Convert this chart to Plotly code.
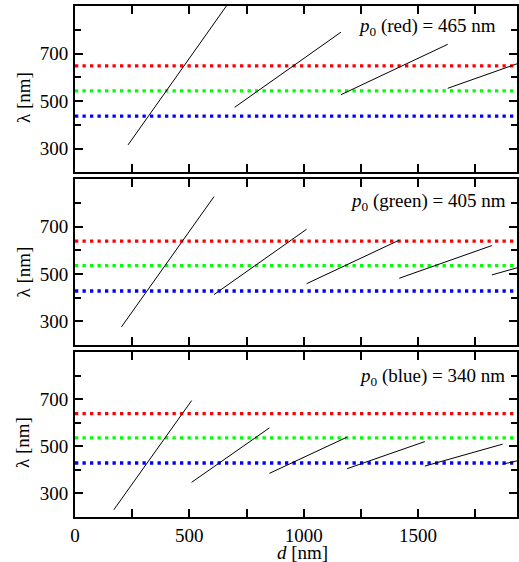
import plotly.graph_objects as go

# ---------------- data ----------------
# horizontal reference wavelengths (nm) per panel: red, green, blue
ref_colors = ["#ff0000", "#00ff00", "#0000ff"]
ref_lambda_p1 = [648, 543, 437]   # p0(red)=465 panel
ref_lambda_p2 = [639, 535, 428]   # p0(green)=405 panel
ref_lambda_p3 = [639, 536, 429]   # p0(blue)=340 panel

# black branch segments: start/end d (nm), start/end lambda (nm)
p1_d0 = [232, 698, 1163, 1630]
p1_d1 = [662, 1163, 1630, 1933]
p1_l0 = [316, 474, 527, 554]
p1_l1 = [900, 790, 739, 657]

p2_d0 = [203, 608, 1013, 1418, 1823]
p2_d1 = [608, 1013, 1418, 1823, 1933]
p2_l0 = [276, 413, 459, 482, 496]
p2_l1 = [827, 689, 643, 620, 526]

p3_d0 = [170, 510, 850, 1190, 1530, 1870]
p3_d1 = [510, 850, 1190, 1530, 1870, 1933]
p3_l0 = [231, 347, 385, 405, 416, 424]
p3_l1 = [694, 578, 539, 520, 509, 438]

panel_labels = ["<i>p</i><sub>0</sub> (red) = 465 nm",
                "<i>p</i><sub>0</sub> (green) = 405 nm",
                "<i>p</i><sub>0</sub> (blue) = 340 nm"]

x_range = [0, 1933]
y_range = [200, 900]
x_tickvals = [0, 500, 1000, 1500]
y_tickvals = [300, 500, 700]

FONT = "Liberation Serif"

fig = go.Figure()

panels = [
    ("x3", "y3", ref_lambda_p1, p1_d0, p1_d1, p1_l0, p1_l1),
    ("x2", "y2", ref_lambda_p2, p2_d0, p2_d1, p2_l0, p2_l1),
    ("x", "y", ref_lambda_p3, p3_d0, p3_d1, p3_l0, p3_l1),
]

for xa, ya, refs, d0, d1, l0, l1 in panels:
    for c, lam in zip(ref_colors, refs):
        fig.add_trace(go.Scatter(x=x_range, y=[lam, lam], mode="lines",
                                 line=dict(color=c, width=3.3, dash="3.3px,4.2px"),
                                 xaxis=xa, yaxis=ya, showlegend=False, hoverinfo="skip"))
    xs, ys = [], []
    for a, b, c0, c1 in zip(d0, d1, l0, l1):
        xs += [a, b, None]
        ys += [c0, c1, None]
    fig.add_trace(go.Scatter(x=xs, y=ys, mode="lines",
                             line=dict(color="black", width=1),
                             xaxis=xa, yaxis=ya, showlegend=False, hoverinfo="skip"))

tickfont = dict(family=FONT, size=19, color="black")

def xax(show, anchor):
    return dict(range=x_range, tickmode="array", tickvals=x_tickvals,
                showticklabels=show, anchor=anchor,
                showline=True, linewidth=2, linecolor="black", mirror="allticks",
                ticks="inside", ticklen=8, tickwidth=2, tickcolor="black",
                minor=dict(dtick=250, tick0=0, ticks="inside", ticklen=8, tickwidth=2, tickcolor="black"),
                showgrid=False, zeroline=False, tickfont=tickfont, domain=[0, 1])

def yax(domain, anchor):
    return dict(range=y_range, tickmode="array", tickvals=y_tickvals, anchor=anchor,
                showline=True, linewidth=2, linecolor="black", mirror="allticks",
                ticks="inside", ticklen=8, tickwidth=2, tickcolor="black",
                minor=dict(dtick=100, tick0=200, ticks="inside", ticklen=6, tickwidth=2, tickcolor="black"),
                showgrid=False, zeroline=False, tickfont=tickfont, domain=domain,
                ticklabelstandoff=1)

fig.update_layout(
    width=519, height=562,
    margin=dict(l=75, r=0, t=5, b=44),
    plot_bgcolor="white", paper_bgcolor="white",
    xaxis=xax(True, "y"),
    xaxis2=xax(False, "y2"),
    xaxis3=xax(False, "y3"),
    yaxis=yax([0.002, 0.3235], "x"),
    yaxis2=yax([0.3373, 0.6602], "x2"),
    yaxis3=yax([0.6735, 0.998], "x3"),
    font=dict(family=FONT, size=19, color="black"),
)

annots = []
# panel labels
for txt, yp, xr in zip(panel_labels, [0.9577, 0.6166, 0.2742], [0.957, 0.980, 0.977]):
    annots.append(dict(text=txt, xref="paper", yref="paper", x=xr, y=yp,
                       xanchor="right", yanchor="middle", showarrow=False,
                       font=dict(family=FONT, size=19, color="black")))
# y titles
for yp in [0.8187, 0.4786, 0.1462]:
    annots.append(dict(text="λ [nm]", xref="paper", yref="paper", x=0, y=yp,
                       xshift=-52, xanchor="center", yanchor="middle", textangle=-90,
                       showarrow=False, font=dict(family=FONT, size=19, color="black")))
# x title
annots.append(dict(text="<i>d</i> [nm]", xref="paper", yref="paper", x=(304 - 75) / 444, y=0,
                   yshift=-34, xanchor="center", yanchor="middle", showarrow=False,
                   font=dict(family=FONT, size=19, color="black")))
fig.update_layout(annotations=annots)

fig.write_html("out.html")
